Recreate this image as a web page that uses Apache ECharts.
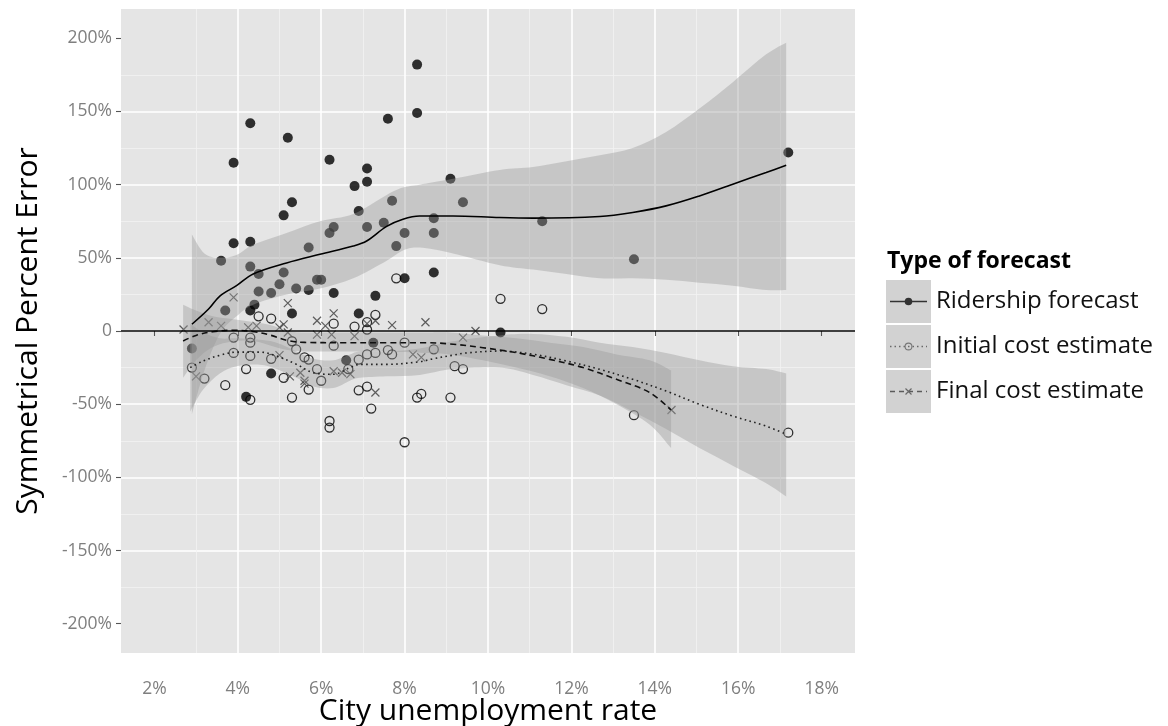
<!DOCTYPE html>
<html>
<head>
<meta charset="utf-8">
<script src="https://cdn.jsdelivr.net/npm/echarts@6/dist/echarts.min.js"></script>
<style>
  html, body { margin: 0; padding: 0; background: #ffffff; }
  #chart { width: 1168px; height: 726px; }
</style>
</head>
<body>
<div id="chart"></div>
<script>
// Axis ticks (percent units)
const xTicks = [2, 4, 6, 8, 10, 12, 14, 16, 18];
const yTicks = [-200, -150, -100, -50, 0, 50, 100, 150, 200];

const forecastTypes = ['Ridership forecast', 'Initial cost estimate', 'Final cost estimate'];

// Observations: [city unemployment rate %, symmetrical percent error %]
const ridershipPoints = [
  [8.3, 182], [4.3, 142], [5.2, 132], [7.6, 145], [8.3, 149], [3.9, 115], [6.2, 117],
  [7.1, 111], [7.1, 102], [6.8, 99], [9.1, 104], [5.3, 88], [5.1, 79], [6.9, 82],
  [7.7, 89], [9.4, 88], [6.3, 71], [6.2, 67], [7.1, 71], [7.5, 74], [8.7, 77],
  [8.7, 67], [8.0, 67], [7.8, 58], [3.9, 60], [4.3, 61], [5.7, 57], [3.6, 48],
  [4.3, 44], [4.5, 39], [5.1, 40], [5.0, 32], [5.4, 29], [5.7, 28], [5.9, 35],
  [6.0, 35], [4.5, 27], [4.8, 26], [6.3, 26], [7.3, 24], [8.0, 36], [8.7, 40],
  [4.4, 18], [4.3, 14], [3.7, 14], [5.3, 12], [6.9, 12], [17.2, 122], [11.3, 75],
  [13.5, 49], [10.3, -1], [2.9, -12], [7.25, -8], [6.6, -20], [4.8, -29], [4.2, -45]
];

const initialCostPoints = [
  [10.3, 22], [11.3, 15], [7.8, 36], [4.5, 10], [4.8, 8.5], [6.3, 5], [7.3, 11],
  [7.1, 6], [6.8, 3], [7.1, 1], [3.9, -4.5], [4.3, -4.5], [4.3, -8], [5.3, -7],
  [5.4, -12.5], [6.3, -10], [8.0, -8], [8.7, -12.5], [7.6, -13], [7.7, -16], [3.9, -15],
  [4.3, -17], [4.8, -19], [5.6, -18], [5.7, -19.5], [6.9, -19.5], [7.1, -16], [7.3, -15],
  [2.9, -25], [3.2, -32.5], [4.2, -26], [5.1, -32], [5.7, -40], [6.0, -34], [5.9, -26],
  [6.65, -26], [3.7, -37], [4.3, -47], [5.3, -45.5], [6.9, -40.5], [7.1, -38], [7.2, -53],
  [8.3, -45.5], [8.4, -43], [9.1, -45.5], [9.2, -24], [9.4, -26], [6.2, -61.5], [6.2, -66],
  [8.0, -76], [13.5, -57.5], [17.2, -69.5]
];

const finalCostPoints = [
  [2.7, 1], [3.3, 6], [3.6, 3.5], [3.9, 23], [5.2, 19], [6.3, 12], [5.9, 7], [7.1, 5],
  [7.3, 7], [7.7, 4], [8.5, 6], [9.7, 0], [9.4, -4.5], [8.2, -16], [8.4, -18], [5.0, -16.5],
  [3.0, -31], [5.25, -31], [5.5, -28.5], [5.6, -34], [6.3, -27.5], [6.5, -28.5], [6.7, -29.5],
  [7.3, -42], [14.4, -54], [4.45, 3.5], [5.0, 2.5], [4.25, 2.5], [6.25, -2.5], [6.8, -3.5],
  [5.9, -2.5], [5.1, 4.5], [6.1, 3.5], [5.2, -1], [5.6, -36]
];

// Smoothed fits: [x, fitted %]
const ridershipFit = [
  [2.9, 4.6], [3.3, 15], [3.57, 23.9], [3.97, 31], [4.37, 39], [5.17, 46.5], [5.97, 52.4],
  [6.77, 58.1], [7.09, 61.5], [7.57, 71.5], [7.96, 76.4], [8.36, 78.6], [9.16, 78.6],
  [10.28, 77.5], [11.08, 77.1], [12.68, 78.2], [13.47, 81], [14.27, 85.5], [15.07, 92.3],
  [15.87, 100.3], [16.67, 108.3], [17.15, 113.3]
];
const initialCostFit = [
  [2.86, -25], [3.17, -20.5], [3.57, -16.6], [3.97, -14.4], [4.53, -14.4], [4.93, -17.1],
  [5.41, -22.8], [5.81, -28.5], [6.29, -29.6], [6.69, -25], [6.93, -22.8], [7.57, -22.8],
  [8.36, -21], [8.68, -19], [9.16, -16.5], [9.48, -15], [10.28, -13.7], [11.08, -15.9],
  [11.88, -20.5], [12.68, -26.2], [13.47, -33], [14.27, -41], [15.07, -50.1], [15.87, -58.1],
  [16.67, -65], [17.15, -70.6]
];
const finalCostFit = [
  [2.69, -6.8], [3.0, -3], [3.4, -0.5], [3.9, 0.5], [4.4, -0.5], [4.8, -3], [5.2, -6.5],
  [5.6, -7.8], [6.5, -8], [7.5, -8], [8.5, -8], [9.08, -8.8], [9.88, -11.4], [10.68, -14.8],
  [11.48, -19.4], [12.28, -25], [13.08, -33], [13.88, -42.1], [14.39, -54]
];

// Confidence bands: [x, lower %, upper %]
const ridershipBand = [
  [2.9, -57, 66], [3.2, -27, 53], [3.57, -2, 50], [3.97, 10, 52], [4.37, 18, 59],
  [5.17, 25, 67], [5.97, 29, 75], [6.77, 36, 80], [7.57, 48, 93], [7.96, 55, 98],
  [8.36, 57, 100], [9.16, 53, 104], [10.28, 45, 110], [11.08, 42, 112], [11.88, 39, 116],
  [12.68, 36, 120], [13.47, 36, 125], [14.27, 35, 136], [15.07, 33, 152], [15.87, 31, 170],
  [16.67, 28, 189], [17.15, 28, 197]
];
const initialCostBand = [
  [2.86, -55, 5], [3.17, -40, -1], [3.57, -29, -5], [3.97, -24, -5], [4.53, -23, -6],
  [4.93, -26, -8], [5.41, -32, -14], [5.81, -38, -19], [6.29, -39, -20], [6.69, -34, -16],
  [6.93, -32, -14], [7.57, -31, -14], [8.36, -30, -12], [9.16, -26, -7], [10.28, -25, -3],
  [11.08, -30, -2], [11.88, -37, -4], [12.68, -44, -8], [13.47, -55, -11], [14.27, -67, -15],
  [15.07, -80, -20], [15.87, -92, -24], [16.67, -104, -26], [17.15, -113, -29]
];
const finalCostBand = [
  [2.69, -32, 18], [3.0, -20, 14], [3.4, -11, 10], [3.9, -7, 8], [4.4, -7, 6], [4.8, -10, 4],
  [5.2, -13, 0], [5.6, -14, -1], [6.5, -14, -1], [7.5, -14, -1], [8.5, -15, -1], [9.08, -16, -1],
  [9.88, -20, -3], [10.68, -25, -5], [11.48, -31, -8], [12.28, -39, -11], [13.08, -50, -16],
  [13.88, -64, -20], [14.39, -80, -27]
];

const FONT = 'Open Sans';
const RIBBON = 'rgba(153,153,153,0.4)';

function svgIcon(body) {
  const svg = "<svg xmlns='http://www.w3.org/2000/svg' width='45' height='43'>" +
    "<rect width='45' height='43' fill='#c8c8c8'/>" + body + "</svg>";
  return 'image://data:image/svg+xml;charset=utf-8,' + encodeURIComponent(svg);
}
const legendIcons = [
  svgIcon("<line x1='4' y1='21.5' x2='41' y2='21.5' stroke='#000' stroke-width='1.6'/>" +
          "<circle cx='22.5' cy='21.5' r='3.8' fill='#000'/>"),
  svgIcon("<line x1='4' y1='21.5' x2='41' y2='21.5' stroke='#444' stroke-width='1.5' stroke-dasharray='1.5,3'/>" +
          "<circle cx='22.5' cy='21.5' r='3.4' fill='none' stroke='#555' stroke-width='1.1'/>"),
  svgIcon("<line x1='4' y1='21.5' x2='41' y2='21.5' stroke='#333' stroke-width='1.5' stroke-dasharray='5,4'/>" +
          "<path d='M19.5 18.5 L25.5 24.5 M25.5 18.5 L19.5 24.5' stroke='#444' stroke-width='1.2'/>")
];

// Smooth outline through a run of pixel points (Catmull-Rom as cubic Beziers)
function curveThrough(pts, start) {
  let d = (start ? 'M' : 'L') + pts[0][0] + ',' + pts[0][1];
  for (let i = 0; i < pts.length - 1; i++) {
    const p0 = pts[i - 1] || pts[i], p1 = pts[i], p2 = pts[i + 1], p3 = pts[i + 2] || pts[i + 1];
    const c1x = p1[0] + (p2[0] - p0[0]) / 6, c1y = p1[1] + (p2[1] - p0[1]) / 6;
    const c2x = p2[0] - (p3[0] - p1[0]) / 6, c2y = p2[1] - (p3[1] - p1[1]) / 6;
    d += 'C' + c1x + ',' + c1y + ',' + c2x + ',' + c2y + ',' + p2[0] + ',' + p2[1];
  }
  return d;
}

// Confidence ribbon: closed shape along the upper edge and back along the lower edge
function bandSeries(name, band) {
  return {
    type: 'custom', name: name, data: band, silent: true, z: 3,
    encode: { x: 0, y: [1, 2] },
    renderItem: function (params, api) {
      if (params.dataIndexInside !== 0) return null;
      const upper = [], lower = [];
      for (let i = 0; i < params.dataInsideLength; i++) {
        const x = api.value(0, i);
        lower.push(api.coord([x, api.value(1, i)]));
        upper.push(api.coord([x, api.value(2, i)]));
      }
      const d = curveThrough(upper, true) + curveThrough(lower.reverse(), false) + 'Z';
      return { type: 'path', shape: { pathData: d }, style: { fill: RIBBON, stroke: null } };
    }
  };
}

function fitSeries(name, fit, type, color) {
  return {
    type: 'line', name: name, data: fit,
    smooth: 0.35, symbol: 'none', silent: true,
    lineStyle: { color: color, width: 1.6, type: type }, z: 4
  };
}

const chart = echarts.init(document.getElementById('chart'), null, { renderer: 'canvas' });

chart.setOption({
  animation: false,
  backgroundColor: '#ffffff',
  title: {
    text: 'Type of forecast', left: 882, top: 245,
    textStyle: { fontFamily: FONT, fontSize: 23, fontWeight: 'bold', color: '#000' }
  },
  legend: {
    orient: 'vertical', left: 886, top: 280, padding: 0,
    itemWidth: 45, itemHeight: 43, itemGap: 2, selectedMode: false,
    textStyle: { fontFamily: FONT, fontSize: 24, color: '#111', padding: [0, 0, 0, 0] },
    data: forecastTypes.map((n, i) => ({ name: n, icon: legendIcons[i] }))
  },
  grid: {
    left: 121, right: 313, top: 9, bottom: 73,
    outerBoundsMode: 'none', containLabel: false,
    show: true, backgroundColor: '#e5e5e5', borderWidth: 0
  },
  xAxis: {
    type: 'value', min: 1.2, max: 18.8, splitNumber: 8,
    name: 'City unemployment rate', nameLocation: 'middle', nameGap: 43, nameMoveOverlap: false,
    nameTextStyle: { fontFamily: FONT, fontSize: 30, color: '#000' },
    axisLine: { show: false },
    axisTick: { show: true, customValues: xTicks, length: 5, lineStyle: { color: '#555', width: 1.1 } },
    axisLabel: {
      customValues: xTicks, margin: 27,
      fontFamily: FONT, fontSize: 17.5, color: '#7f7f7f',
      formatter: v => v + '%'
    },
    splitLine: { show: true, showMinLine: false, showMaxLine: false, lineStyle: { color: '#ffffff', width: 1.6 } },
    minorTick: { show: false, splitNumber: 2 },
    minorSplitLine: { show: true, lineStyle: { color: '#f3f3f3', width: 0.8 } }
  },
  yAxis: {
    type: 'value', min: -220, max: 220, splitNumber: 8,
    name: 'Symmetrical Percent Error', nameLocation: 'middle', nameGap: 78, nameMoveOverlap: false,
    nameTextStyle: { fontFamily: FONT, fontSize: 30, color: '#000' },
    axisLine: { show: false },
    axisTick: { show: true, customValues: yTicks, length: 5, lineStyle: { color: '#555', width: 1.1 } },
    axisLabel: {
      customValues: yTicks, margin: 9,
      fontFamily: FONT, fontSize: 17.5, color: '#7f7f7f',
      formatter: v => (v === 0 ? '0' : v + '%')
    },
    splitLine: { show: true, showMinLine: false, showMaxLine: false, lineStyle: { color: '#ffffff', width: 1.6 } },
    minorTick: { show: false, splitNumber: 2 },
    minorSplitLine: { show: true, lineStyle: { color: '#f3f3f3', width: 0.8 } }
  },
  series: [
    {
      type: 'scatter', name: forecastTypes[0], data: ridershipPoints,
      symbol: 'circle', symbolSize: 10, itemStyle: { color: '#000' }, z: 2
    },
    {
      type: 'scatter', name: forecastTypes[1], data: initialCostPoints,
      symbol: 'circle', symbolSize: 9,
      itemStyle: { color: 'rgba(0,0,0,0)', borderColor: '#000', borderWidth: 1.3 }, z: 2
    },
    {
      type: 'scatter', name: forecastTypes[2], data: finalCostPoints,
      symbol: 'path://M0,0L10,10M10,0L0,10', symbolSize: 8,
      itemStyle: { color: 'rgba(0,0,0,0)', borderColor: '#3a3a3a', borderWidth: 1.2 }, z: 2
    },
    bandSeries(forecastTypes[0], ridershipBand),
    fitSeries(forecastTypes[0], ridershipFit, 'solid', '#000'),
    bandSeries(forecastTypes[1], initialCostBand),
    fitSeries(forecastTypes[1], initialCostFit, [1.6, 3.4], '#222'),
    bandSeries(forecastTypes[2], finalCostBand),
    fitSeries(forecastTypes[2], finalCostFit, [6, 4], '#111'),
    {
      type: 'line', name: 'zero', data: [], silent: true, z: 6,
      markLine: {
        silent: true, symbol: ['none', 'none'], label: { show: false },
        lineStyle: { color: '#000', width: 1.5, type: 'solid' },
        data: [{ yAxis: 0 }]
      }
    }
  ]
});
</script>
</body>
</html>
